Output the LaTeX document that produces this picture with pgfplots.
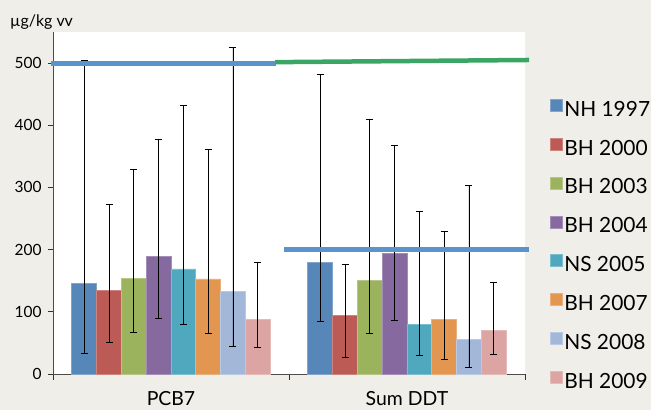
\documentclass[border=0pt]{standalone}
\usepackage{fontspec}
\setmainfont{Lato}
\usepackage{pgfplots}
\pgfplotsset{compat=1.18}
\definecolor{bgc}{HTML}{EFEEE8}
\definecolor{c1}{HTML}{5787B9}
\definecolor{c2}{HTML}{BC5A55}
\definecolor{c3}{HTML}{9CB35E}
\definecolor{c4}{HTML}{85699F}
\definecolor{c5}{HTML}{50A8BE}
\definecolor{c6}{HTML}{E3964F}
\definecolor{c7}{HTML}{A3B8D9}
\definecolor{c8}{HTML}{DCA4A3}
\definecolor{lblue}{HTML}{5B93CC}
\definecolor{lgreen}{HTML}{3AA564}
\begin{document}
\begin{tikzpicture}
\fill[bgc] (-53bp,-36bp) rectangle (598bp,374bp);
\begin{axis}[
  at={(0,0)}, anchor=south west,
  scale only axis, width=472bp, height=342bp,
  xmin=-0.5, xmax=1.5, ymin=0, ymax=550,
  axis background/.style={fill=white},
  axis x line*=bottom, axis y line*=left,
  axis line style={draw=black!70, line width=0.8bp},
  clip=false,
  xtick={0,1}, xticklabels={PCB7, Sum DDT},
  major x tick style={draw=none},
  minor xtick={-0.5,0.5,1.5},
  minor x tick style={draw=black!80, line width=0.8bp},
  minor tick length=6bp,
  ytick={0,100,200,300,400,500},
  major y tick style={draw=black!80, line width=0.8bp},
  major tick length=5bp,
  tick align=outside,
  /pgf/number format/assume math mode=true,
  yticklabel style={font=\fontsize{15.5}{18}\selectfont, xshift=-3bp},
  xticklabel style={font=\fontsize{19.5}{22}\selectfont, yshift=-9bp},
  error bars/y dir=both, error bars/y explicit,
  error bars/error bar style={black, line width=0.8bp},
  error bars/error mark options={black, line width=0.8bp, rotate=90, mark size=3.5bp},
  legend style={draw=none, fill=none, at={(1,0.805)}, anchor=north west, xshift=25bp,
    font=\fontsize{21}{24}\selectfont, row sep=19.6bp, column sep=1.5bp, inner sep=0pt,
    nodes={inner sep=0pt, text height=14bp, text depth=2bp}},
  legend cell align=left,
  legend image code/.code={\fill[#1] (0bp,-1bp) rectangle (12bp,11bp);},
  every axis plot/.append style={ybar, bar width=24.8bp, bar shift=0pt, line width=0.6bp},
]
\addplot[fill=c1, draw=c1!75!white] coordinates {(-0.3678,146) += (0,358) -= (0,113) (0.6322,180) += (0,302) -= (0,96)};
\addplot[fill=c2, draw=c2!75!white] coordinates {(-0.2627,134) += (0,139) -= (0,83) (0.7373,94) += (0,83) -= (0,68)};
\addplot[fill=c3, draw=c3!75!white] coordinates {(-0.1576,154) += (0,175) -= (0,87) (0.8424,151) += (0,258) -= (0,85)};
\addplot[fill=c4, draw=c4!75!white] coordinates {(-0.0525,189) += (0,189) -= (0,99) (0.9475,194) += (0,174) -= (0,107)};
\addplot[fill=c5, draw=c5!75!white] coordinates {(0.0525,169) += (0,263) -= (0,89) (1.0525,80) += (0,181) -= (0,50)};
\addplot[fill=c6, draw=c6!75!white] coordinates {(0.1576,153) += (0,208) -= (0,87) (1.1576,88) += (0,142) -= (0,64)};
\addplot[fill=c7, draw=c7!75!white] coordinates {(0.2627,133) += (0,393) -= (0,88) (1.2627,56) += (0,248) -= (0,45)};
\addplot[fill=c8, draw=c8!75!white] coordinates {(0.3678,88) += (0,92) -= (0,45) (1.3678,70) += (0,78) -= (0,39)};
\legend{NH 1997, BH 2000, BH 2003, BH 2004, NS 2005, BH 2007, NS 2008, BH 2009}
\addplot[sharp plot, no marks, lblue, line width=4.5bp, forget plot] coordinates {(-0.508,499) (0.445,499)};
\addplot[sharp plot, no marks, lgreen, line width=4.5bp, forget plot] coordinates {(0.441,501.5) (1.517,505)};
\addplot[sharp plot, no marks, lblue, line width=4.5bp, forget plot] coordinates {(0.479,200) (1.517,200)};
\end{axis}
\node[anchor=base west, font=\fontsize{16}{19}\selectfont, inner sep=0pt] at (-43bp,347bp) {µg/kg vv};
\pgfresetboundingbox
\useasboundingbox (-53bp,-36bp) rectangle (598bp,374bp);
\end{tikzpicture}
\end{document}
